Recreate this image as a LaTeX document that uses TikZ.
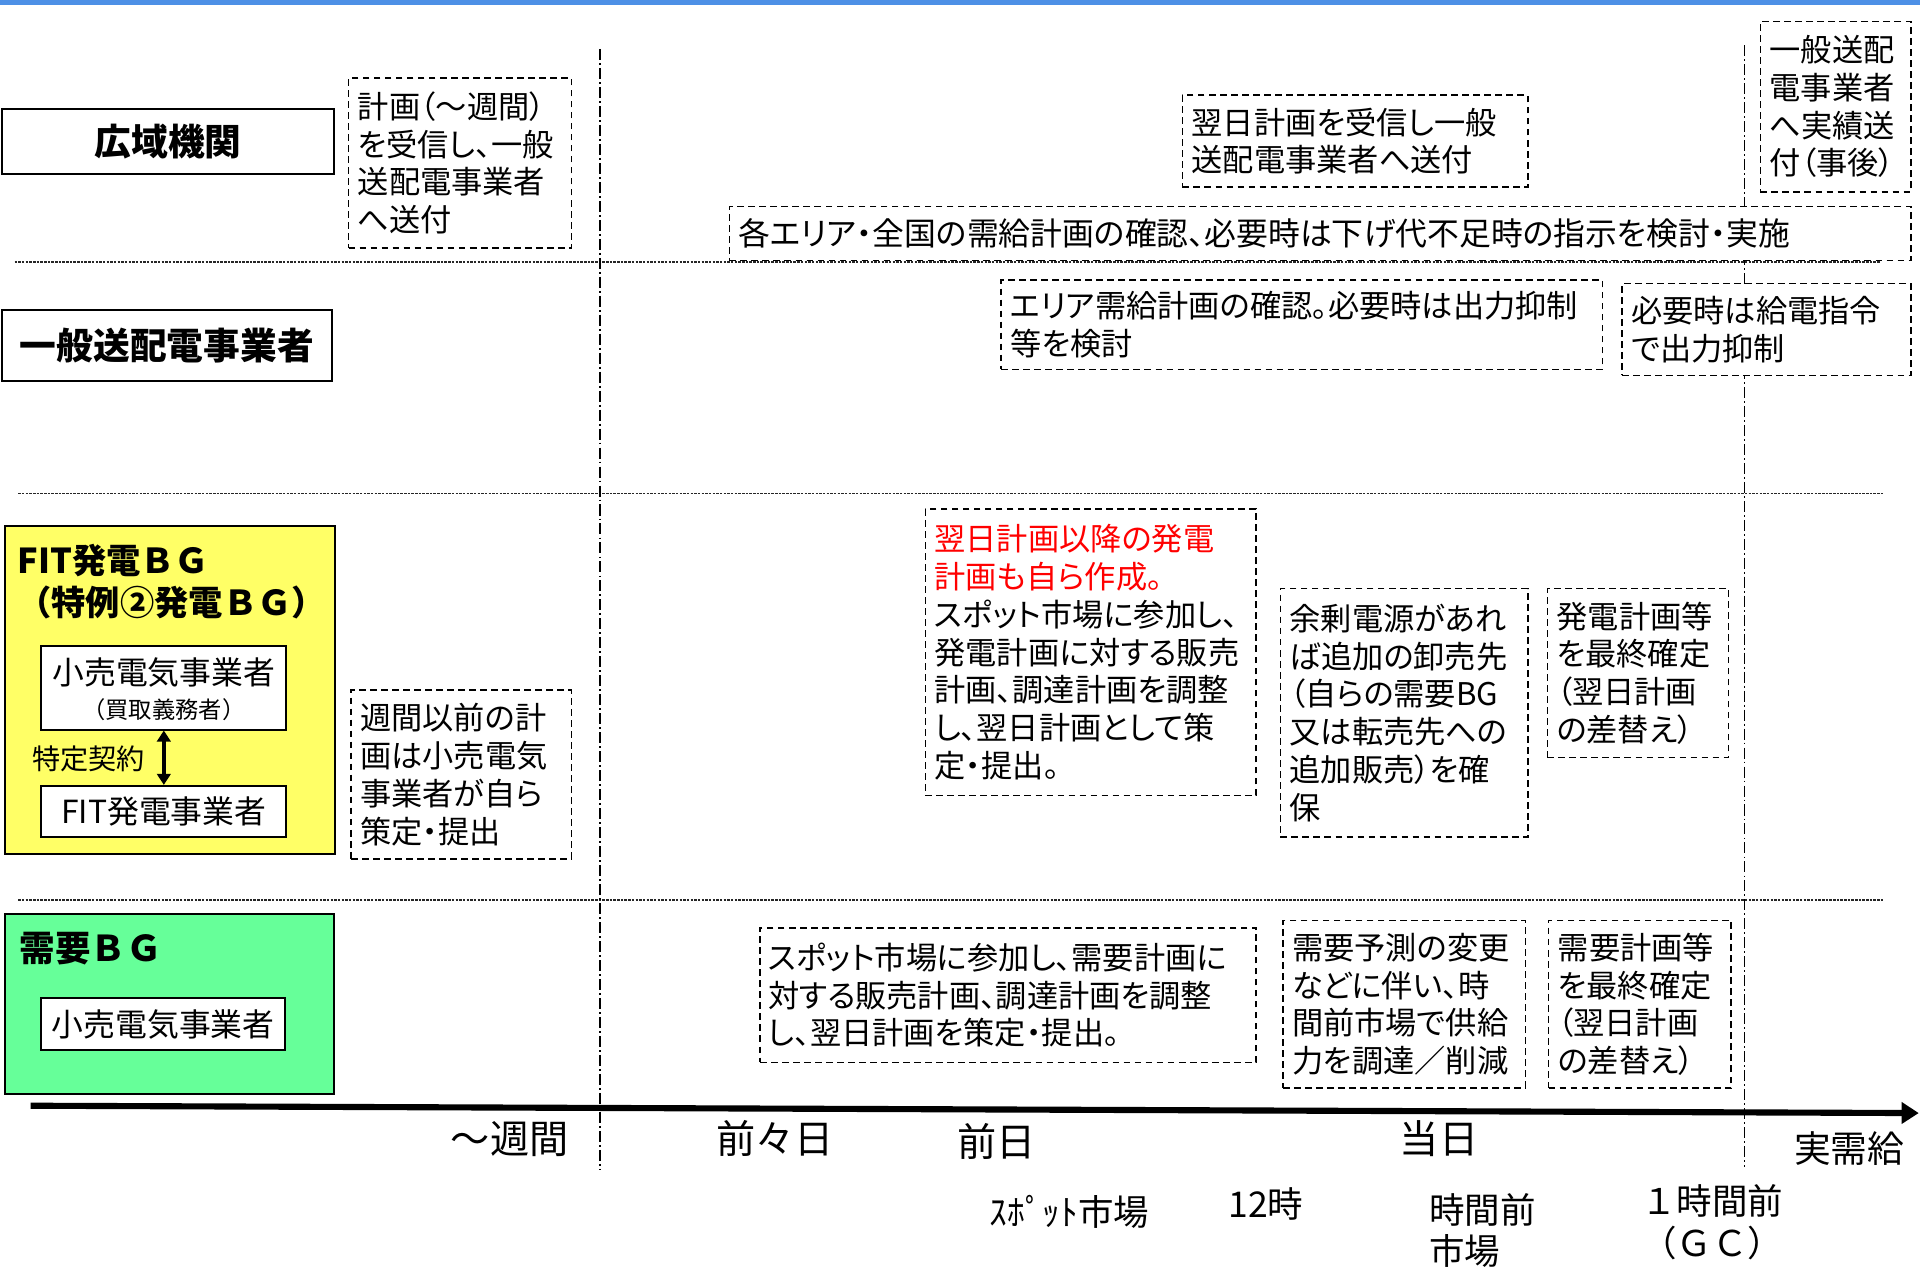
\documentclass[tikz,border=0pt]{standalone}
\usepackage{fontspec}
\setmainfont{Noto Sans CJK JP}[RawFeature=+palt]
\newfontfamily\jpfw{Noto Sans CJK JP}
\usetikzlibrary{arrows.meta}
\newcommand\setfs[2]{\fontsize{#1}{#2}\selectfont}
\definecolor{topblue}{RGB}{77,144,230}
\definecolor{fityellow}{RGB}{255,255,102}
\definecolor{dgreen}{RGB}{102,255,153}
\tikzset{
  dbox/.style={draw, line width=1.3pt, dash pattern=on 5.5pt off 3.5pt, fill=white, inner sep=0pt, anchor=north west},
  sbox/.style={draw, line width=1.6pt, fill=white, inner sep=0pt, anchor=north west},
  txt/.style={inner sep=0pt, align=left, anchor=west, font=\setfs{25.5}{30.8}},
  sepline/.style={line width=0.9pt, dash pattern=on 2pt off 1pt, black!85},
  tline/.style={line width=0.9pt, dash pattern=on 9pt off 2.5pt on 1.5pt off 2.5pt},
  lbl/.style={inner sep=0pt, anchor=west, align=left, font=\jpfw\setfs{32}{36}},
  lbltwo/.style={inner sep=0pt, anchor=west, align=left, font=\jpfw\setfs{29}{34}},
  ttl/.style={inner sep=0pt, font=\bfseries\setfs{30}{34}},
}
\begin{document}
\begin{tikzpicture}[x=1pt,y=-1pt]
\useasboundingbox (0,0) rectangle (1568,1040);
\fill[topblue] (0,0) rectangle (1568,4);

% separators and time lines
\draw[sepline] (12,214) -- (1535,214);
\draw[sepline] (15,403) -- (1538,403);
\draw[sepline] (15,735) -- (1538,735);
\draw[tline] (490,40) -- (490,955);
\draw[tline] (1425,37) -- (1425,953);

% axis
\coordinate (axs) at (25,903);
\coordinate (axe) at (1567,909);
\draw[line width=5pt, -{Triangle[length=14pt, width=17pt]}] (axs) -- (axe);

% 広域機関 row
\node[sbox, minimum width=271pt, minimum height=53pt] (kouiki) at (1,88) {};
\node[ttl] at (kouiki.center) {広域機関};
\node[dbox, minimum width=182pt, minimum height=139pt] (b1) at (284,63) {};
\node[txt] at ([xshift=8pt]b1.west) {計画（～週間）\\を受信し、一般\\送配電事業者\\へ送付};
\node[dbox, minimum width=282pt, minimum height=75pt] (b2) at (965,77) {};
\node[txt] at ([xshift=8pt]b2.west) {翌日計画を受信し一般\\送配電事業者へ送付};
\node[dbox, minimum width=123pt, minimum height=139pt] (b3) at (1437,17) {};
\node[txt] at ([xshift=8pt]b3.west) {一般送配\\電事業者\\へ実績送\\付（事後）};
\node[dbox, minimum width=965pt, minimum height=44pt] (b4) at (595,168) {};
\node[txt, font=\setfs{26}{31}] at ([xshift=8pt]b4.west) {各エリア・全国の需給計画の確認、必要時は下げ代不足時の指示を検討・実施};

% 一般送配電事業者 row
\node[sbox, minimum width=269pt, minimum height=58pt] (ippan) at (1,252) {};
\node[ttl] at (ippan.center) {一般送配電事業者};
\node[dbox, minimum width=491pt, minimum height=73pt] (b5) at (817,228) {};
\node[txt] at ([xshift=8pt]b5.west) {エリア需給計画の確認。必要時は出力抑制\\等を検討};
\node[dbox, minimum width=236pt, minimum height=75pt] (b6) at (1324,231) {};
\node[txt] at ([xshift=8pt]b6.west) {必要時は給電指令\\で出力抑制};

% FIT row
\node[sbox, fill=fityellow, minimum width=270pt, minimum height=268pt] (fit) at (3,429) {};
\node[inner sep=0pt, anchor=west, align=left, font=\jpfw\bfseries\setfs{28}{34}] at (14,475) {FIT発電ＢＧ\\（特例②発電ＢＧ）};
\node[sbox, minimum width=200pt, minimum height=68pt] (kouri1) at (33,527) {};
\node[inner sep=0pt, align=center, font=\setfs{26}{28}] at ([yshift=-1pt]kouri1.center) {小売電気事業者\\{\jpfw\setfs{19}{20}（買取義務者）}};
\node[sbox, minimum width=200pt, minimum height=42pt] (fitgen) at (33,641) {};
\node[inner sep=0pt, font=\setfs{26}{28}] at (fitgen.center) {FIT発電事業者};
\draw[line width=3pt, {Triangle[length=9pt, width=11pt]}-{Triangle[length=9pt, width=11pt]}] (kouri1.south) -- (fitgen.north);
\node[inner sep=0pt, anchor=west, font=\setfs{23}{25}] at (26,620) {特定契約};
\node[dbox, minimum width=180pt, minimum height=138pt] (b7) at (286,563) {};
\node[txt] at ([xshift=8pt]b7.west) {週間以前の計\\画は小売電気\\事業者が自ら\\策定・提出};
\node[dbox, minimum width=270pt, minimum height=234pt] (b8) at (755,415) {};
\node[txt] at ([xshift=8pt]b8.west) {\textcolor{red}{翌日計画以降の発電}\\\textcolor{red}{計画も自ら作成。}\\スポット市場に参加し、\\発電計画に対する販売\\計画、調達計画を調整\\し、翌日計画として策\\定・提出。};
\node[dbox, minimum width=202pt, minimum height=203pt] (b9) at (1045,480) {};
\node[txt] at ([xshift=8pt]b9.west) {余剰電源があれ\\ば追加の卸売先\\（自らの需要BG\\又は転売先への\\追加販売）を確\\保};
\node[dbox, minimum width=148pt, minimum height=138pt] (b10) at (1263,480) {};
\node[txt] at ([xshift=8pt]b10.west) {発電計画等\\を最終確定\\（翌日計画\\の差替え）};

% 需要BG row
\node[sbox, fill=dgreen, minimum width=269pt, minimum height=147pt] (jyuyo) at (3,746) {};
\node[inner sep=0pt, anchor=west, font=\jpfw\bfseries\setfs{29}{34}] at (16,775) {需要ＢＧ};
\node[sbox, minimum width=199pt, minimum height=43pt] (kouri2) at (33,814) {};
\node[inner sep=0pt, font=\setfs{26}{28}] at (kouri2.center) {小売電気事業者};
\node[dbox, minimum width=405pt, minimum height=110pt] (b11) at (620,757) {};
\node[txt] at ([xshift=7pt]b11.west) {スポット市場に参加し、需要計画に\\対する販売計画、調達計画を調整\\し、翌日計画を策定・提出。};
\node[dbox, minimum width=198pt, minimum height=137pt] (b12) at (1047,751) {};
\node[txt] at ([xshift=8pt]b12.west) {需要予測の変更\\などに伴い、時\\間前市場で供給\\力を調達／削減};
\node[dbox, minimum width=149pt, minimum height=137pt] (b13) at (1264,751) {};
\node[txt] at ([xshift=8pt]b13.west) {需要計画等\\を最終確定\\（翌日計画\\の差替え）};

% axis labels
\node[lbl] (l1) at (368,930) {～週間};
\node[lbl] (l2) at (585,930) {前々日};
\node[lbl] (l3) at (782,932) {前日};
\node[lbl] (l4) at (1143,930) {当日};
\node[lbl, font=\jpfw\setfs{30}{34}] (l5) at (1465,938) {実需給};
\node[lbltwo] (m1) at (808,990) {ｽﾎﾟｯﾄ市場};
\node[lbltwo] (m2) at (1003,983) {12時};
\node[lbltwo] (m3) at (1167,1005) {時間前\\市場};
\node[lbltwo] (m4) at (1340,998) {１時間前\\（ＧＣ）};
\end{tikzpicture}
\end{document}
